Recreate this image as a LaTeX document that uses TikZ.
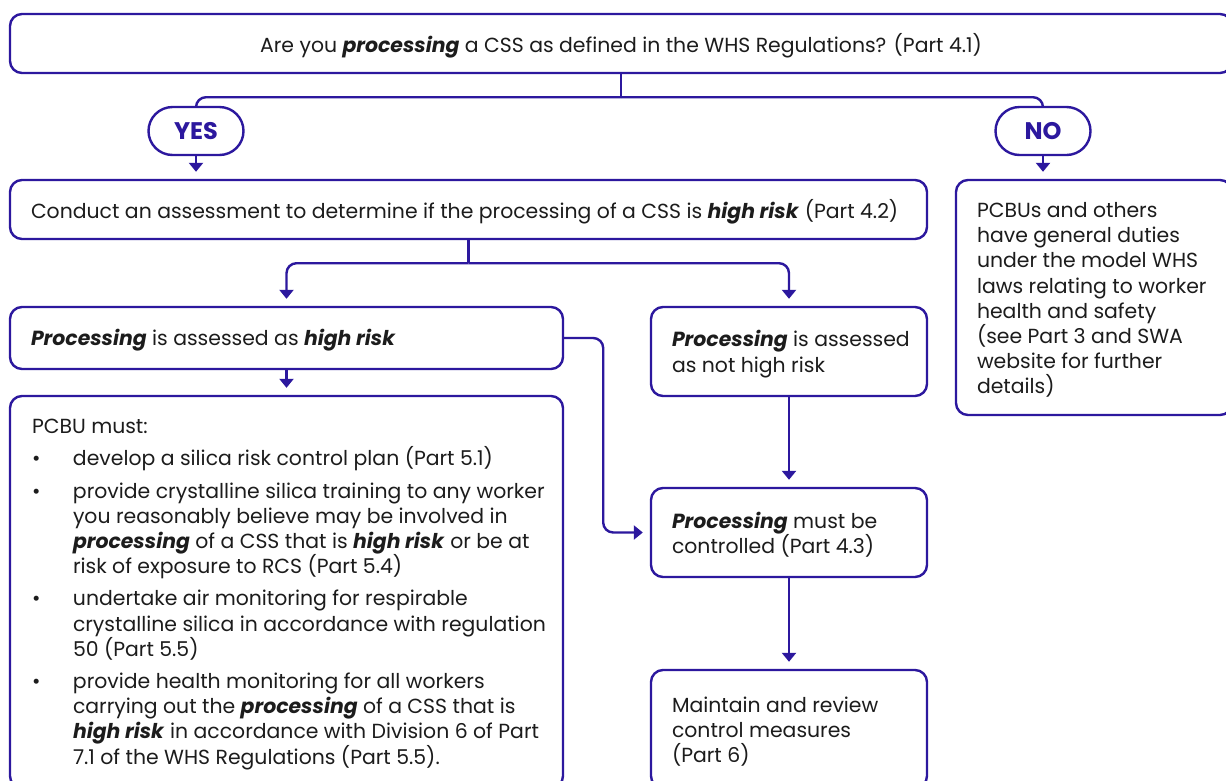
\documentclass[tikz,border=0pt]{standalone}
\usepackage{fontspec}
\setmainfont{Poppins}
\usetikzlibrary{arrows.meta}
\definecolor{pur}{RGB}{44,24,158}
\definecolor{ink}{RGB}{28,28,28}
\newcommand\emphb[1]{\textbf{\textit{#1}}}
\newcommand\bul{\makebox[41pt][l]{\textbullet}}
\newcommand\ind{\hspace*{41pt}}
\begin{document}
\begin{tikzpicture}[x=1pt,y=-1pt,
  box/.style={draw=pur,line width=2.4pt,rounded corners=12pt,inner sep=0pt,fill=white},
  pill/.style={draw=pur,line width=2.4pt,rounded corners=24pt,inner sep=0pt,fill=white,
    minimum width=95pt,minimum height=48pt,text=pur,font=\bfseries\fontsize{24}{24}\selectfont},
  txt/.style={inner sep=0pt,align=left,text=ink,anchor=west,font=\fontsize{20.4}{25.2}\selectfont},
  con/.style={draw=pur,line width=2.4pt},
  arr/.style={con,-{Triangle[width=14pt,length=9pt]},shorten >=7pt}]
\useasboundingbox (0,0) rectangle (1226,780);
\clip (0,0) rectangle (1226,780);
\fill[white] (0,0) rectangle (1226,780);

% boxes
\node[box,minimum width=1222pt,minimum height=59pt] (q) at (621,43.5) {};
\node[pill] (yes) at (196,131) {YES};
\node[pill] (no) at (1043,131) {NO};
\node[box,minimum width=917pt,minimum height=59pt] (b2) at (468.5,209.5) {};
\node[box,minimum width=276pt,minimum height=235pt] (nb) at (1094,297.5) {};
\node[box,minimum width=553pt,minimum height=62pt] (b3) at (286.5,338) {};
\node[box,minimum width=276pt,minimum height=89pt] (b4) at (789,351.5) {};
\node[box,minimum width=553pt,minimum height=392pt] (b5) at (286.5,592) {};
\node[box,minimum width=276pt,minimum height=89pt] (b6) at (789,532.5) {};
\node[box,minimum width=276pt,minimum height=118pt] (b7) at (789,729) {};

% texts
\node[txt,anchor=center] (tq) at ([shift={(0,2.5)}]q.center)
  {Are you \emphb{processing} a CSS as defined in the WHS Regulations? (Part 4.1)};
\node[txt] (t2) at ([shift={(22,2.5)}]b2.west)
  {Conduct an assessment to determine if the processing of a CSS is \emphb{high risk} (Part 4.2)};
\node[txt] (tn) at ([shift={(22,2.5)}]nb.west)
  {PCBUs and others\\have general duties\\under the model WHS\\laws relating to worker\\health and safety\\(see Part 3 and SWA\\website for further\\details)};
\node[txt] (t3) at ([shift={(22,2.5)}]b3.west) {\emphb{Processing} is assessed as \emphb{high risk}};
\node[txt] (t4) at ([shift={(22,2.5)}]b4.west) {\emphb{Processing} is assessed\\as not high risk};
\node[txt] (t5) at ([shift={(23,2.5)}]b5.west)
  {PCBU must:\\[7pt]
   \bul develop a silica risk control plan (Part 5.1)\\[7pt]
   \bul provide crystalline silica training to any worker\\
   \ind you reasonably believe may be involved in\\
   \ind \emphb{processing} of a CSS that is \emphb{high risk} or be at\\
   \ind risk of exposure to RCS (Part 5.4)\\[7pt]
   \bul undertake air monitoring for respirable\\
   \ind crystalline silica in accordance with regulation\\
   \ind 50 (Part 5.5)\\[7pt]
   \bul provide health monitoring for all workers\\
   \ind carrying out the \emphb{processing} of a CSS that is\\
   \ind \emphb{high risk} in accordance with Division 6 of Part\\
   \ind 7.1 of the WHS Regulations (Part 5.5).};
\node[txt] (t6) at ([shift={(22,2.5)}]b6.west) {\emphb{Processing} must be\\controlled (Part 4.3)};
\node[txt] (t7) at ([shift={(22,2.5)}]b7.west) {Maintain and review\\control measures\\(Part 6)};

% connectors
\draw[con] (q.south) -- ++(0,23) coordinate (qj);
\draw[con,rounded corners=10pt] (qj) -| (yes.north);
\draw[con,rounded corners=10pt] (qj) -| (no.north);
\draw[arr] (yes.south) -- (b2.north -| yes.south);
\draw[arr] (no.south) -- (nb.north -| no.south);
\draw[con] (b2.south) -- ++(0,23) coordinate (bj);
\draw[arr,rounded corners=10pt] (bj) -| (b3.north);
\draw[arr,rounded corners=10pt] (bj) -| (b4.north);
\draw[arr] (b3.south) -- (b5.north);
\draw[arr,rounded corners=10pt] (b3.east) -- ++(39,0) |- (b6.west);
\draw[arr] (b4.south) -- (b6.north);
\draw[arr] (b6.south) -- (b7.north);
\end{tikzpicture}
\end{document}
